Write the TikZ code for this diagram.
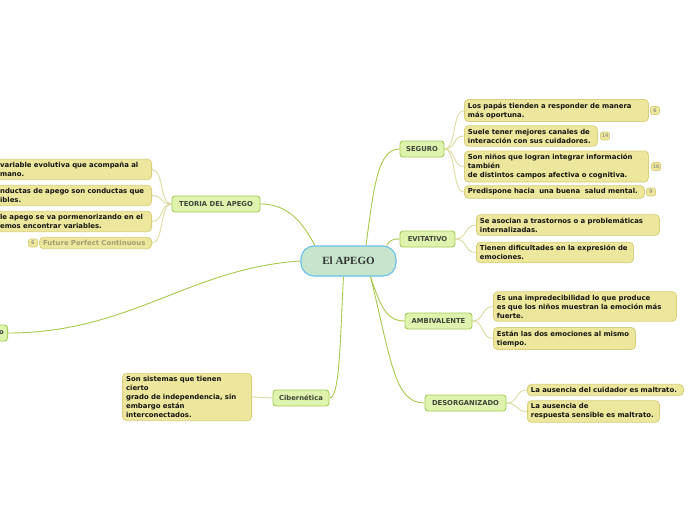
\documentclass[tikz,border=0pt]{standalone}
\usepackage{fontspec}
\usetikzlibrary{backgrounds}
\setmainfont{DejaVu Sans}
\newfontfamily\titlefont{Liberation Serif}
\definecolor{leaffill}{HTML}{EDE79D}
\definecolor{leafdraw}{HTML}{D8D07C}
\definecolor{leaftext}{HTML}{141410}
\definecolor{brfill}{HTML}{DDF3AE}
\definecolor{brdraw}{HTML}{A6CC55}
\definecolor{brtext}{HTML}{3E4438}
\definecolor{cfill}{HTML}{C6E5CC}
\definecolor{cdraw}{HTML}{66BFEC}
\definecolor{maincol}{HTML}{A8C94C}
\definecolor{subcol}{HTML}{DEDBA2}
\definecolor{greytext}{HTML}{A39E70}
\newcommand\lnx[1]{\mbox{#1}}
\begin{document}
\begin{tikzpicture}[x=1pt,y=-1pt,
  leaf/.style={draw=leafdraw, fill=leaffill, rounded corners=4pt, line width=0.8pt,
    font=\fontsize{6.9}{9}\selectfont\bfseries, text=leaftext, align=left,
    inner xsep=3.5pt, inner ysep=3pt},
  branch/.style={draw=brdraw, fill=brfill, rounded corners=3pt, line width=0.9pt,
    font=\fontsize{6.8}{8}\selectfont\bfseries, text=brtext, inner xsep=3pt,
    inner ysep=2pt, minimum height=16pt},
  centre/.style={draw=cdraw, fill=cfill, rounded corners=13pt, line width=1.1pt,
    font=\titlefont\fontsize{11}{12}\selectfont\bfseries, text=black!80,
    minimum width=95pt, minimum height=30pt},
  badge/.style={draw=leafdraw, fill=leaffill, rounded corners=2pt, line width=0.6pt,
    font=\fontsize{5}{5}\selectfont, text=black!55, inner sep=1pt,
    minimum width=9pt, minimum height=8pt},
  mainline/.style={draw=maincol, line width=0.9pt},
  subline/.style={draw=subcol, line width=0.9pt}]
\useasboundingbox (0,0) rectangle (696,520);
\clip (0,0) rectangle (696,520);

% centre
\node[centre] (c) at (348.5,261) {El APEGO};

% branches
\node[branch, minimum width=44pt] (seg) at (422,149) {SEGURO};
\node[branch, minimum width=55pt] (evi) at (427.5,239) {EVITATIVO};
\node[branch, minimum width=67pt] (amb) at (438.5,321) {AMBIVALENTE};
\node[branch, minimum width=81pt] (des) at (465.5,403) {DESORGANIZADO};
\node[branch, minimum width=56pt] (cib) at (301,398) {Cibernética};
\node[branch, minimum width=88pt] (teo) at (216,204) {TEORIA DEL APEGO};
\node[branch, anchor=east, minimum width=12pt] (lft) at (8,333) {o};

% SEGURO leaves
\node[leaf, anchor=west, text width=177pt] (s1) at (464,110.5) {\lnx{Los papás tienden a responder de manera}\\\lnx{más oportuna.}};
\node[leaf, anchor=west, text width=126pt] (s2) at (464,136) {\lnx{Suele tener mejores canales de}\\\lnx{interacción con sus cuidadores.}};
\node[leaf, anchor=west, text width=177pt] (s3) at (464,166.5) {\lnx{Son niños que logran integrar información}\\\lnx{también}\\\lnx{de distintos campos afectiva o cognitiva.}};
\node[leaf, anchor=west, text width=173pt] (s4) at (464,192) {\lnx{Predispone hacia \ una buena \ salud mental.}};
\node[badge] (b1) at (655,110.5) {6};
\node[badge] (b2) at (605,136) {14};
\node[badge] (b3) at (656,166.5) {16};
\node[badge] (b4) at (651,192) {9};

% EVITATIVO leaves
\node[leaf, anchor=west, text width=176pt] (e1) at (476,225) {\lnx{Se asocian a trastornos o a problemáticas}\\\lnx{internalizadas.}};
\node[leaf, anchor=west, text width=150pt] (e2) at (476,252.5) {\lnx{Tienen dificultades en la expresión de}\\\lnx{emociones.}};

% AMBIVALENTE leaves
\node[leaf, anchor=west, text width=176pt] (a1) at (493,306.5) {\lnx{Es una impredecibilidad lo que produce}\\\lnx{es que los niños muestran la emoción más}\\\lnx{fuerte.}};
\node[leaf, anchor=west, text width=135pt] (a2) at (493,338.5) {\lnx{Están las dos emociones al mismo}\\\lnx{tiempo.}};

% DESORGANIZADO leaves
\node[leaf, anchor=west, text width=149pt] (d1) at (527,390) {\lnx{La ausencia del cuidador es maltrato.}};
\node[leaf, anchor=west, text width=125pt] (d2) at (527,411.5) {\lnx{La ausencia de}\\\lnx{respuesta sensible es maltrato.}};

% Cibernetica leaf
\node[leaf, anchor=east, text width=122pt] (c1) at (252,397) {\lnx{Son sistemas que tienen}\\\lnx{cierto}\\\lnx{grado de independencia, sin}\\\lnx{embargo están}\\\lnx{interconectados.}};

% TEORIA leaves
\node[leaf, anchor=east, text width=148pt] (t1) at (152,169.5) {\lnx{variable evolutiva que acompaña al}\\\lnx{mano.}};
\node[leaf, anchor=east, text width=148pt] (t2) at (152,195.5) {\lnx{nductas de apego son conductas que}\\\lnx{ibles.}};
\node[leaf, anchor=east, text width=148pt] (t3) at (152,221.5) {\lnx{le apego se va pormenorizando en el}\\\lnx{emos encontrar variables.}};
\node[leaf, anchor=east, text width=105pt, text=greytext] (t4) at (152,243) {\lnx{Future Perfect Continuous}};
\node[badge] (b5) at (33,243) {6};

\begin{pgfonlayer}{background}
\fill[white] (0,0) rectangle (696,520);
% main connectors
\draw[mainline] ([xshift=-33.5pt]c.north) .. controls (305,228) and (292,204) .. (teo.east);
\draw[mainline] ([xshift=17.5pt]c.north) .. controls (374,185) and (378,149) .. (seg.west);
\draw[mainline] ([xshift=-10pt]c.north east) .. controls (390,240) and (393,239) .. (evi.west);
\draw[mainline] ([xshift=-5pt]c.south) .. controls (340,340) and (340,398) .. (cib.east);
\draw[mainline] ([xshift=22pt]c.south) .. controls (380,305) and (386,321) .. (amb.west);
\draw[mainline] ([xshift=22pt]c.south) .. controls (392,365) and (395,403) .. (des.west);
\draw[mainline] (c.west) .. controls (190,268) and (130,333) .. (lft.east);
% sub connectors
\foreach \n in {s1,s2,s3,s4}
  \draw[subline] (seg.east) .. controls +(12,0) and +(-12,0) .. (\n.west);
\foreach \n in {e1,e2}
  \draw[subline] (evi.east) .. controls +(12,0) and +(-12,0) .. (\n.west);
\foreach \n in {a1,a2}
  \draw[subline] (amb.east) .. controls +(12,0) and +(-12,0) .. (\n.west);
\foreach \n in {d1,d2}
  \draw[subline] (des.east) .. controls +(12,0) and +(-12,0) .. (\n.west);
\draw[subline] (cib.west) -- (c1.east);
\foreach \n in {t1,t2,t3,t4}
  \draw[subline] (teo.west) .. controls +(-12,0) and +(12,0) .. (\n.east);
\end{pgfonlayer}
\end{tikzpicture}
\end{document}
